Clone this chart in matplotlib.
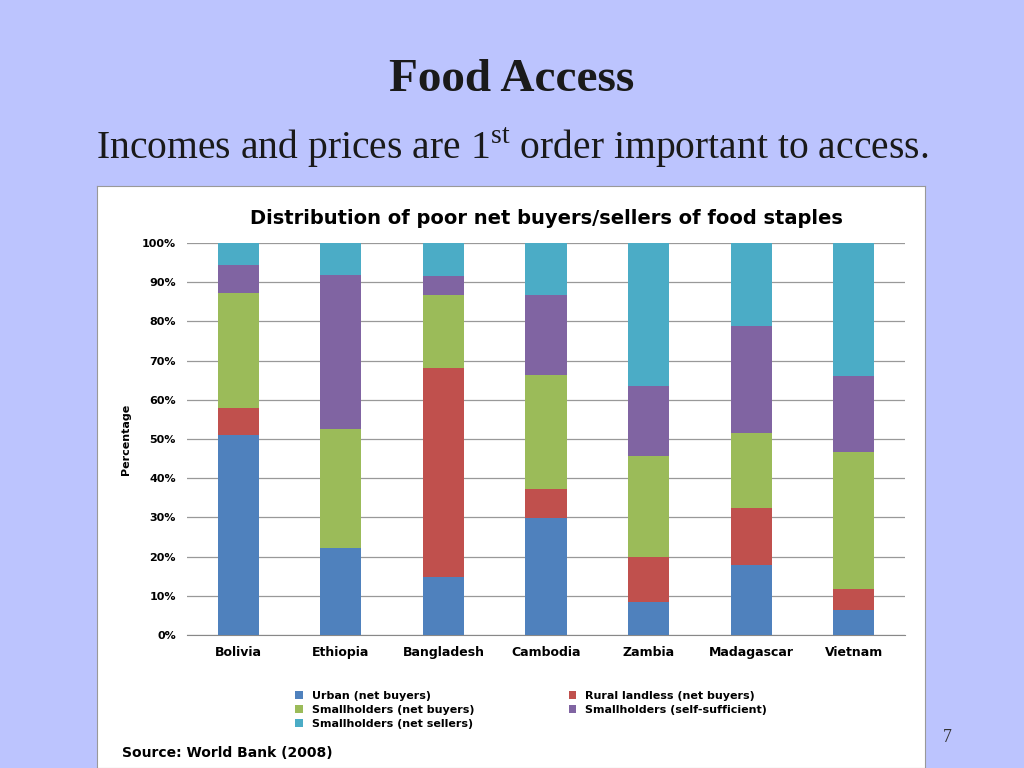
import matplotlib

matplotlib.use("Agg")
import matplotlib.pyplot as plt
import numpy as np

plt.rcParams["mathtext.fontset"] = "custom"
plt.rcParams["mathtext.rm"] = "Liberation Serif"

countries = ["Bolivia", "Ethiopia", "Bangladesh", "Cambodia", "Zambia", "Madagascar", "Vietnam"]
urban = [51.0, 22.2, 14.8, 29.8, 8.4, 17.9, 6.4]
rural_landless = [7.0, 0.0, 53.3, 7.4, 11.5, 14.5, 5.3]
small_buyers = [29.2, 30.3, 18.6, 29.1, 25.8, 19.1, 35.0]
small_selfsuff = [7.2, 39.3, 4.9, 20.4, 17.8, 27.3, 19.4]
small_sellers = [5.6, 8.2, 8.4, 13.3, 36.5, 21.2, 33.9]

series = [
    ("Urban (net buyers)", urban, "#4F81BD"),
    ("Rural landless (net buyers)", rural_landless, "#C0504D"),
    ("Smallholders (net buyers)", small_buyers, "#9BBB59"),
    ("Smallholders (self-sufficient)", small_selfsuff, "#8064A2"),
    ("Smallholders (net sellers)", small_sellers, "#4BACC6"),
]

fig = plt.figure(figsize=(10.24, 7.68), dpi=100, facecolor="#BCC4FE")

# white chart panel behind the plot
panel = fig.add_axes([97 / 1024, 0, 828 / 1024, 582 / 768], zorder=-1)
panel.set_xticks([])
panel.set_yticks([])
panel.set_facecolor("white")
for sp in panel.spines.values():
    sp.set_color("#999999")

fig.text(0.5, 1 - 80 / 768, "Food Access", ha="center", va="center", fontsize=34,
         fontweight="bold", family="Liberation Serif", color="#1a1a1a")
fig.text(0.5, 1 - 148 / 768, r"Incomes and prices are 1$^{\mathrm{st}}$ order important to access.",
         ha="center", va="center", fontsize=28.5, family="Liberation Serif", color="#1a1a1a")
fig.text(947 / 1024, 1 - 737 / 768, "7", ha="center", va="center", fontsize=13,
         family="Liberation Serif", color="#333333")

ax = fig.add_axes([187 / 1024, 1 - 635 / 768, 718 / 1024, 392 / 768])
ax.patch.set_alpha(0)
x = np.arange(len(countries))
bottom = np.zeros(len(countries))
handles = []
for label, vals, color in series:
    h = ax.bar(x, vals, width=0.4, bottom=bottom, color=color, label=label, zorder=3)
    handles.append(h)
    bottom += np.asarray(vals)

ax.set_ylim(0, 100)
ax.set_xlim(-0.5, len(countries) - 0.5)
ax.set_yticks(np.arange(0, 101, 10))
ax.set_yticklabels([f"{v}%" for v in range(0, 101, 10)], fontsize=8, fontweight="bold")
ax.set_xticks(x)
ax.set_xticklabels(countries, fontsize=9, fontweight="bold")
ax.yaxis.grid(True, color="#999999", linewidth=0.9, zorder=0)
for side in ["top", "right", "left"]:
    ax.spines[side].set_visible(False)
ax.spines["bottom"].set_color("#888888")
ax.tick_params(length=0, pad=8)
ax.set_ylabel("Percentage", fontsize=8, fontweight="bold", labelpad=8)
ax.set_title("Distribution of poor net buyers/sellers of food staples", fontsize=14,
             fontweight="bold", pad=14)

order = [0, 2, 4, 1, 3]
fig.legend([handles[i] for i in order], [series[i][0] for i in order], ncol=2,
           loc="upper left", bbox_to_anchor=(285 / 1024, 1 - 681 / 768), frameon=False,
           handlelength=0.7, handleheight=0.7, columnspacing=8.5,
           labelspacing=0.35, prop={"weight": "bold", "size": 8})

fig.text(122 / 1024, 1 - 753 / 768, "Source: World Bank (2008)", ha="left", va="center",
         fontsize=10, fontweight="bold")

fig.savefig("out.png", dpi=100, facecolor=fig.get_facecolor())
